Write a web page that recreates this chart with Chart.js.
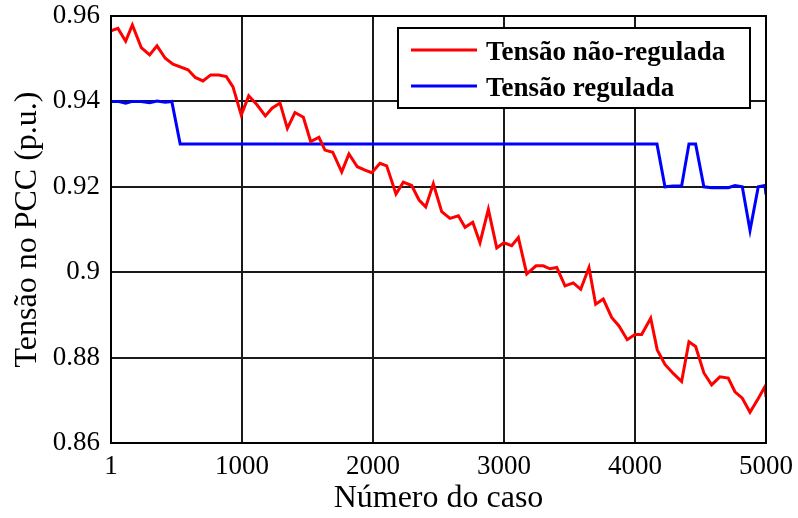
<!DOCTYPE html>
<html>
<head>
<meta charset="utf-8">
<script src="https://cdn.jsdelivr.net/npm/chart.js@4/dist/chart.umd.min.js"></script>
<style>
  html, body { margin: 0; padding: 0; background: #ffffff; }
  #wrap { width: 798px; height: 518px; }
</style>
</head>
<body>
<div id="wrap"><canvas id="c" width="798" height="518"></canvas></div>
<script>
// Series names shown in the legend
const seriesNames = ['Tensão não-regulada', 'Tensão regulada'];

// Unregulated PCC voltage (case number, p.u.)
const casosNaoRegulada = [
  1, 54, 113, 164, 232, 296, 352, 415, 474, 589, 644, 703, 762, 823, 881, 932,
  995, 1052, 1115, 1179, 1230, 1291, 1347, 1405, 1469, 1525, 1588, 1634, 1693,
  1762, 1817, 1881, 1940, 1991, 2054, 2105, 2176, 2232, 2296, 2352, 2403, 2461,
  2525, 2588, 2652, 2703, 2762, 2817, 2881, 2945, 3000, 3059, 3110, 3174, 3245,
  3300, 3351, 3403, 3466, 3529, 3586, 3649, 3700, 3758, 3822, 3878, 3941, 4000,
  4051, 4120, 4170, 4229, 4292, 4356, 4412, 4463, 4526, 4585, 4648, 4712, 4763,
  4819, 4878, 4941, 4992, 5000
];
const tensaoNaoRegulada = [
  0.9565, 0.9571, 0.9541, 0.9579, 0.9526, 0.9509, 0.9530, 0.9501, 0.9487, 0.9474,
  0.9456, 0.9448, 0.9462, 0.9462, 0.9458, 0.9434, 0.9368, 0.9413, 0.9392, 0.9366,
  0.9384, 0.9396, 0.9337, 0.9374, 0.9363, 0.9306, 0.9316, 0.9286, 0.9281, 0.9235,
  0.9277, 0.9247, 0.9239, 0.9233, 0.9255, 0.9249, 0.9183, 0.9211, 0.9203, 0.9169,
  0.9153, 0.9207, 0.9142, 0.9126, 0.9132, 0.9105, 0.9117, 0.9069, 0.9147, 0.9057,
  0.9069, 0.9062, 0.9081, 0.8996, 0.9015, 0.9015, 0.9008, 0.9011, 0.8968, 0.8975,
  0.8960, 0.9011, 0.8925, 0.8937, 0.8894, 0.8874, 0.8842, 0.8854, 0.8854, 0.8892,
  0.8818, 0.8784, 0.8763, 0.8744, 0.8837, 0.8826, 0.8764, 0.8736, 0.8755, 0.8752,
  0.8720, 0.8705, 0.8672, 0.8704, 0.8732, 0.8708
];

// Regulated PCC voltage (case number, p.u.)
const casosRegulada = [
  1, 54, 113, 164, 232, 296, 352, 415, 465, 529, 4168, 4229, 4292, 4356, 4412,
  4463, 4526, 4585, 4648, 4712, 4763, 4819, 4878, 4941, 4992, 5000
];
const tensaoRegulada = [
  0.9400, 0.9400, 0.9396, 0.9400, 0.9400, 0.9397, 0.9401, 0.9398, 0.9400, 0.9300,
  0.9300, 0.9200, 0.9202, 0.9202, 0.9300, 0.9300, 0.9200, 0.9198, 0.9198, 0.9198,
  0.9203, 0.9200, 0.9098, 0.9200, 0.9203, 0.9182
];

// Axis tick values
const xTicks = [1, 1000, 2000, 3000, 4000, 5000];
const yTicks = [0.86, 0.88, 0.90, 0.92, 0.94, 0.96];

const serif = "'Liberation Serif', 'Times New Roman', Times, serif";

function toPoints(xs, ys) {
  return xs.map((x, i) => ({ x: x, y: ys[i] }));
}

// Box around the axes plus the in-plot legend
const framePlugin = {
  id: 'frameAndLegend',
  afterDatasetsDraw(chart) {
    const ctx = chart.ctx;
    const a = chart.chartArea;
    ctx.save();
    ctx.strokeStyle = '#000000';
    ctx.lineWidth = 2;
    ctx.strokeRect(a.left, a.top, a.right - a.left, a.bottom - a.top);

    // legend box
    const bx = 398, by = 28, bw = 352, bh = 80;
    ctx.fillStyle = '#ffffff';
    ctx.fillRect(bx, by, bw, bh);
    ctx.strokeRect(bx, by, bw, bh);
    const rows = [50, 86];
    chart.data.datasets.forEach((ds, i) => {
      const y = rows[i];
      ctx.strokeStyle = ds.borderColor;
      ctx.lineWidth = 3;
      ctx.beginPath();
      ctx.moveTo(411, y);
      ctx.lineTo(477, y);
      ctx.stroke();
      ctx.fillStyle = '#000000';
      ctx.font = 'bold 27px ' + serif;
      ctx.textAlign = 'left';
      ctx.textBaseline = 'middle';
      ctx.fillText(ds.label, 486, y + 3);
    });
    ctx.restore();
  }
};

new Chart(document.getElementById('c'), {
  type: 'line',
  data: {
    datasets: [
      {
        label: seriesNames[0],
        data: toPoints(casosNaoRegulada, tensaoNaoRegulada),
        borderColor: '#ff0000',
        backgroundColor: '#ff0000',
        borderWidth: 3,
        pointRadius: 0,
        tension: 0,
        fill: false
      },
      {
        label: seriesNames[1],
        data: toPoints(casosRegulada, tensaoRegulada),
        borderColor: '#0000ff',
        backgroundColor: '#0000ff',
        borderWidth: 3,
        pointRadius: 0,
        tension: 0,
        fill: false
      }
    ]
  },
  options: {
    responsive: false,
    animation: false,
    devicePixelRatio: 1,
    layout: { padding: { left: 0, right: 32, top: 16, bottom: 0 } },
    plugins: {
      legend: { display: false },
      tooltip: { enabled: false }
    },
    scales: {
      x: {
        type: 'linear',
        min: 1,
        max: 5000,
        afterBuildTicks(scale) {
          scale.ticks = xTicks.map(v => ({ value: v }));
        },
        afterFit(scale) {
          scale.height = 75;
          scale.paddingLeft = 0;
          scale.paddingRight = 0;
        },
        grid: { color: '#1a1a1a', lineWidth: 2, drawTicks: false },
        border: { color: '#000000', width: 2 },
        ticks: {
          color: '#000000',
          font: { family: serif, size: 27, lineHeight: 1.2 },
          padding: 8,
          maxRotation: 0,
          autoSkip: false,
          callback: v => String(v)
        },
        title: {
          display: true,
          text: 'Número do caso',
          color: '#000000',
          font: { family: serif, size: 32, lineHeight: 1.2 },
          padding: { top: 0, bottom: 0 }
        }
      },
      y: {
        type: 'linear',
        min: 0.86,
        max: 0.96,
        afterBuildTicks(scale) {
          scale.ticks = yTicks.map(v => ({ value: v }));
        },
        afterFit(scale) {
          scale.width = 111;
          scale.paddingTop = 0;
          scale.paddingBottom = 0;
        },
        grid: { color: '#1a1a1a', lineWidth: 2, drawTicks: false },
        border: { color: '#000000', width: 2 },
        ticks: {
          color: '#000000',
          font: { family: serif, size: 27, lineHeight: 1.0 },
          padding: 11,
          autoSkip: false,
          callback: v => String(Number(v.toFixed(2)))
        },
        title: {
          display: true,
          text: 'Tensão no PCC (p.u.)',
          color: '#000000',
          font: { family: serif, size: 32, lineHeight: 1.2 },
          padding: { top: 8, bottom: 0 }
        }
      }
    }
  },
  plugins: [framePlugin]
});
</script>
</body>
</html>
